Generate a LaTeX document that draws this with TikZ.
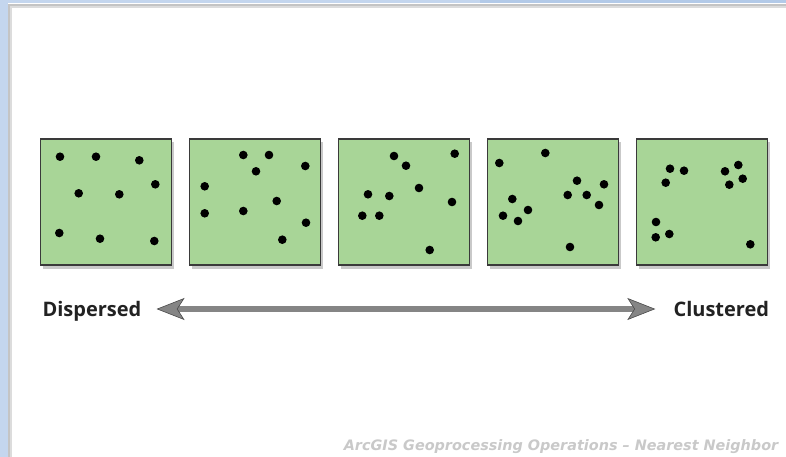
\documentclass[tikz,border=0pt]{standalone}
\usepackage{fontspec}
\setmainfont{Open Sans}
\newfontfamily\captionfont{DejaVu Sans}
\usetikzlibrary{positioning, arrows.meta, shadows}
\definecolor{frame-blue}{HTML}{C4D6EE}
\definecolor{frame-blue-dark}{HTML}{B3CAE8}
\definecolor{frame-gray}{HTML}{C4C4C4}
\definecolor{frame-light}{HTML}{DCDCDC}
\definecolor{field-green}{HTML}{A8D597}
\definecolor{field-edge}{HTML}{3A3A3A}
\definecolor{arrow-gray}{HTML}{858585}
\definecolor{arrow-edge}{HTML}{4A4A4A}
\definecolor{label-dark}{HTML}{222222}
\definecolor{caption-gray}{HTML}{C9C9C9}

\begin{document}
\begin{tikzpicture}[x=1pt, y=-1pt,
        field/.style={draw=field-edge, line width=1.1pt, fill=field-green,
            minimum width=131pt, minimum height=126pt, inner sep=0pt,
            drop shadow={shadow xshift=2.5pt, shadow yshift=-3.5pt,
                opacity=0.35, fill=black!60}},
        endlabel/.style={font=\fontsize{20}{24}\selectfont\bfseries,
            text=label-dark, inner sep=0pt, text depth=0pt},
        spread/.style={line width=6.6pt, arrow-gray,
            {Stealth[length=28pt, width=22pt, inset=7pt, line width=0.6pt,
                color=arrow-edge, fill=arrow-gray]}-{Stealth[length=28pt,
                width=22pt, inset=7pt, line width=0.6pt,
                color=arrow-edge, fill=arrow-gray]}}]
      \useasboundingbox (0,0) rectangle (786,457);
      % window frame
      \fill[frame-blue] (0,0) rectangle (786,457);
      \fill[frame-blue-dark] (480,0) rectangle (786,3);
      \fill[white] (7.5,3) rectangle (786,4);
      \fill[frame-gray] (7.5,4) rectangle (786,457);
      \fill[frame-light] (9.5,6) rectangle (786,457);
      \fill[white] (11.5,8.5) rectangle (786,457);

      % point patterns, most dispersed to most clustered
      \node[field] (box1) at (106,202) {};
      \node[field, right=17pt of box1] (box2) {};
      \node[field, right=17pt of box2] (box3) {};
      \node[field, right=17pt of box3] (box4) {};
      \node[field, right=17pt of box4] (box5) {};
      \foreach \p in {(60,156.7), (96,156.7), (139.3,160.3), (155.3,184.3),
          (78.7,193.3), (119.3,194.3), (59.3,233), (100,238.7), (154.3,241)}
        \fill \p circle[radius=4.3];
      \foreach \p in {(243.3,155), (269,155), (305.3,166), (256,171.3),
          (204.7,186.3), (276.7,201), (204.7,213.3), (243.3,211),
          (306,222.7), (282.3,239.7)}
        \fill \p circle[radius=4.3];
      \foreach \p in {(394,156), (454.7,153.7), (406,165.7), (419,188),
          (368,194.3), (389.3,196), (452,202), (362.3,215.7),
          (379.3,215.7), (429.7,250)}
        \fill \p circle[radius=4.3];
      \foreach \p in {(545.3,153), (499.3,163), (577,180.7), (604,184.3),
          (567.7,195), (586.7,195), (599,205), (512.3,199), (528,210),
          (503,215.7), (518,221), (570,247)}
        \fill \p circle[radius=4.3];
      \foreach \p in {(670,168.7), (684,170.7), (665.7,182.7), (738.3,165),
          (725,171.3), (742.7,178.7), (729.3,184.7), (656,222),
          (669.3,234), (655.7,237.3), (750.3,244.3)}
        \fill \p circle[radius=4.3];

      % scale from dispersed to clustered
      \node[endlabel, anchor=west] (disp) at (42.3,309) {Dispersed};
      \node[endlabel, anchor=east] (clust) at (769.3,309) {Clustered};
      \draw[spread, shorten <=15pt, shorten >=18pt]
            (disp.east) -- (clust.west);

      \node[font=\captionfont\fontsize{14.4}{17}\selectfont\bfseries\itshape,
            text=caption-gray, anchor=east, inner sep=0pt]
            (caption) at (778.5,446.5)
            {ArcGIS Geoprocessing Operations – Nearest Neighbor};
    \end{tikzpicture}
\end{document}
